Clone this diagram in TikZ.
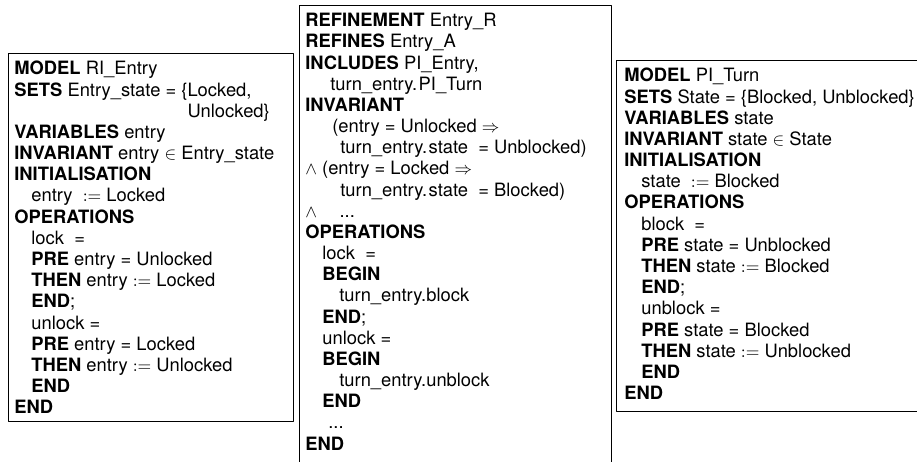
\documentclass[tikz,border=0pt]{standalone}
\usepackage{amsmath}
\usepackage{amssymb}
\usepackage{fontspec}
\setmainfont{TeX Gyre Heros}
\usetikzlibrary{positioning}

\newcommand{\kw}[1]{\textbf{#1}}
\newcommand{\tb}{\hspace*{0.34cm}}

\begin{document}
\begin{tikzpicture}[line cap=round,line join=round,x=0.02cm,y=-0.02cm,
		machbox/.style={draw,line width=0.6pt,anchor=north west,inner sep=0pt},
		machtext/.style={anchor=north west,align=left,inner sep=0pt,
			font=\fontsize{10.45}{12.05}\selectfont}]
		\useasboundingbox (0,0) rectangle (917,461);
		\clip (0,0) rectangle (917,461);
		% boxes
		\node[machbox,minimum width=5.7cm,minimum height=7.36cm] (ribox) at (8,53) {};
		\node[machbox,minimum width=6.24cm,minimum height=9.5cm] (refbox) at (299,5) {};
		\node[machbox,minimum width=6.28cm,minimum height=7.02cm] (pibox) at (616,60) {};
		% RI_Entry
		\node[machtext] (ritext) at (14,61) {\kw{MODEL} RI\_Entry\\
			\kw{SETS} Entry\_state = \{Locked,\\
			\phantom{\kw{SETS} Entry\_state = \{}Unlocked\}\\
			\kw{VARIABLES} entry\\
			\kw{INVARIANT} entry $\in$ Entry\_state\\
			\kw{INITIALISATION}\\
			\tb entry \ $:=$ Locked\\
			\kw{OPERATIONS}\\
			\tb lock \ =\\
			\tb\kw{PRE} entry = Unlocked\\
			\tb\kw{THEN} entry $:=$ Locked\\
			\tb\kw{END};\\
			\tb unlock =\\
			\tb\kw{PRE} entry = Locked\\
			\tb\kw{THEN} entry $:=$ Unlocked\\
			\tb\kw{END}\\
			\kw{END}};
		% Entry_R
		\node[machtext] (reftext) at (305,13) {\kw{REFINEMENT} Entry\_R\\
			\kw{REFINES} Entry\_A\\
			\kw{INCLUDES} PI\_Entry,\\
			\hspace*{0.5cm}turn\_entry.\hspace{0.8pt}PI\_Turn\\
			\kw{INVARIANT}\\
			\hspace*{0.54cm}(entry = Unlocked $\Rightarrow$\\
			\hspace*{0.7cm}turn\_entry.\hspace{0.8pt}state \ = Unblocked)\\
			$\wedge$ (entry = Locked $\Rightarrow$\\
			\hspace*{0.7cm}turn\_entry.\hspace{0.8pt}state \ = Blocked)\\
			$\wedge$\hspace*{0.45cm}...\\
			\kw{OPERATIONS}\\
			\tb lock \ =\\
			\tb\kw{BEGIN}\\
			\tb\tb turn\_entry.block\\
			\tb\kw{END};\\
			\tb unlock =\\
			\tb\kw{BEGIN}\\
			\tb\tb turn\_entry.unblock\\
			\tb\kw{END}\\
			\hspace*{0.46cm}...\\
			\kw{END}};
		% PI_Turn
		\node[machtext] (pitext) at (624,68) {\kw{MODEL} PI\_Turn\\
			\kw{SETS} State = \{Blocked, Unblocked\}\\
			\kw{VARIABLES} state\\
			\kw{INVARIANT} state $\in$ State\\
			\kw{INITIALISATION}\\
			\tb state \ $:=$ Blocked\\
			\kw{OPERATIONS}\\
			\tb block \ =\\
			\tb\kw{PRE} state = Unblocked\\
			\tb\kw{THEN} state $:=$ Blocked\\
			\tb\kw{END};\\
			\tb unblock =\\
			\tb\kw{PRE} state = Blocked\\
			\tb\kw{THEN} state $:=$ Unblocked\\
			\tb\kw{END}\\
			\kw{END}};
\end{tikzpicture}
\end{document}
